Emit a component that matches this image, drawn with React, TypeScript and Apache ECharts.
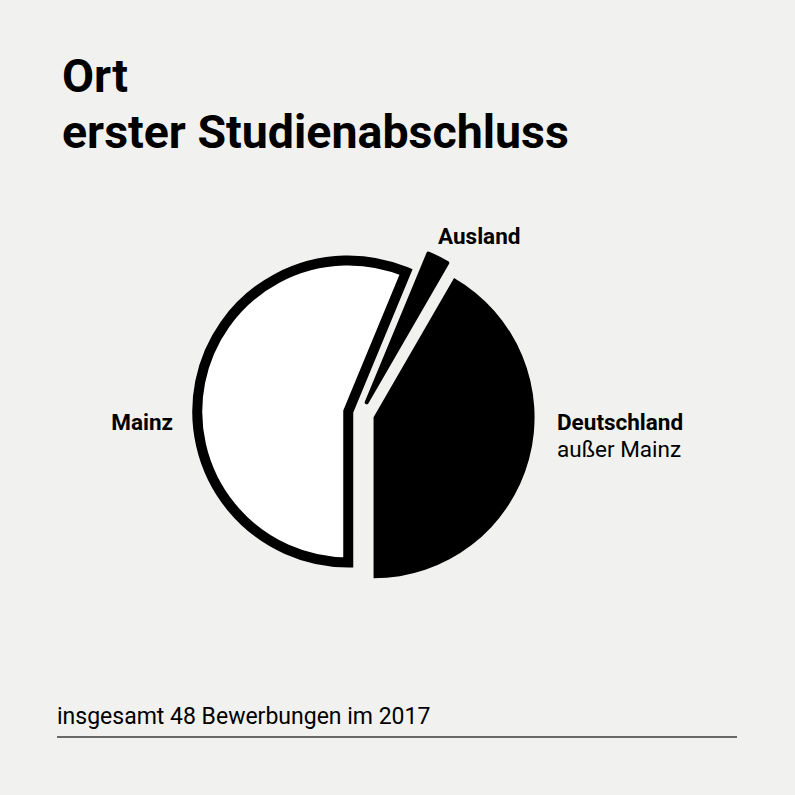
import React, { useEffect, useRef } from 'react';
import * as echarts from 'echarts';

// ---- data ----
const categories = ['Deutschland', 'Mainz', 'Ausland'];
const values = [20, 27, 1];
const labelSubLines = ['außer Mainz', '', ''];
const titleLines = ['Ort', 'erster Studienabschluss'];
const footnote = 'insgesamt 48 Bewerbungen im 2017';

export default function App() {
  const ref = useRef<HTMLDivElement>(null);

  useEffect(() => {
    document.body.style.margin = '0';
    const chart = echarts.init(ref.current as HTMLDivElement, null, { renderer: 'svg' });
    const BG = '#f1f2ef';
    const FONT = 'Roboto';
    const center = [361, 414];
    const startAngle = 60;
    const LABEL_SIZE = 22.5;

    const hidden = { color: 'rgba(0,0,0,0)', borderWidth: 0 };
    const mainzStyle = { color: '#ffffff', borderColor: '#000000', borderWidth: 10, borderJoin: 'miter' };
    const blackStyle = { color: '#000000', borderWidth: 0 };
    const ausStyle = { color: '#000000', borderColor: '#000000', borderWidth: 4, borderJoin: 'round' };

    const makeData = (styles: any[]) =>
      categories.map((name, i) => ({
        name,
        value: values[i],
        selected: true,
        itemStyle: styles[i],
        select: { itemStyle: styles[i] },
      }));

    const common = {
      type: 'pie',
      center,
      startAngle,
      clockwise: true,
      selectedMode: 'multiple',
      selectedOffset: 13,
      avoidLabelOverlap: false,
      label: { show: false },
      labelLine: { show: false },
      emphasis: { disabled: true },
      silent: true,
    };

    const idx = (n: string) => categories.indexOf(n);
    const txt = (text: string, x: number, y: number, weight: string, align: string, size = LABEL_SIZE) => ({
      type: 'text',
      x,
      y,
      style: { text, fontFamily: FONT, fontWeight: weight, fontSize: size, fill: '#000', align, verticalAlign: 'middle' },
    });

    chart.setOption({
      animation: false,
      backgroundColor: BG,
      title: {
        text: titleLines.join('\n'),
        left: 57,
        top: 43,
        textStyle: { fontFamily: FONT, fontWeight: 'bold', fontSize: 46.5, lineHeight: 56, color: '#000' },
      },
      series: [
        {
          ...common,
          radius: 151,
          data: makeData([hidden, mainzStyle, hidden]),
        },
        {
          ...common,
          radius: 161,
          data: makeData([blackStyle, hidden, ausStyle]),
        },
      ],
      graphic: [
        txt(categories[idx('Ausland')], 438, 236, 'bold', 'left'),
        txt(categories[idx('Mainz')], 173, 422, 'bold', 'right'),
        txt(categories[idx('Deutschland')], 557, 422, 'bold', 'left'),
        txt(labelSubLines[idx('Deutschland')], 557, 449, 'normal', 'left'),
        txt(footnote, 57, 716, 'normal', 'left', 23),
        {
          type: 'line',
          shape: { x1: 57, y1: 737, x2: 737, y2: 737 },
          style: { stroke: '#3a3a3a', lineWidth: 1.5 },
        },
      ],
    });

    return () => chart.dispose();
  }, []);

  return <div ref={ref} style={{ position: 'fixed', left: 0, top: 0, width: 795, height: 795 }} />;
}
